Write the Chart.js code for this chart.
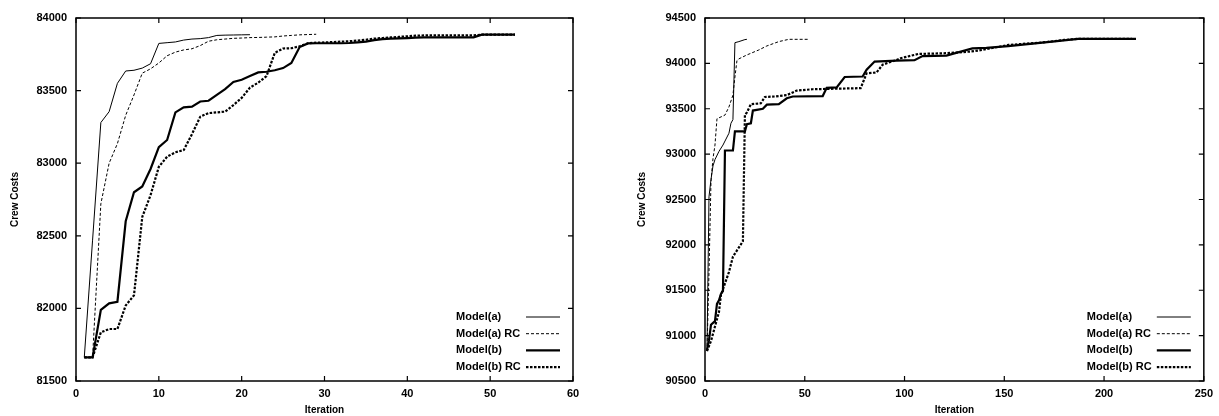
<!DOCTYPE html>
<html>
<head>
<meta charset="utf-8">
<script src="https://cdn.jsdelivr.net/npm/chart.js@4/dist/chart.umd.min.js"></script>
<style>
  body { margin: 0; background: #fff; }
  #wrap { position: relative; width: 1219px; height: 416px; }
  #left { position: absolute; left: 0; top: 0; }
  #right { position: absolute; left: 600px; top: 0; }
</style>
</head>
<body>
<div id="wrap">
  <canvas id="left" width="600" height="416"></canvas>
  <canvas id="right" width="619" height="416"></canvas>
</div>
<script>
// series labels
var seriesNames = ['Model(a)', 'Model(a) RC', 'Model(b)', 'Model(b) RC'];

// left chart, one value per iteration (starting at 1)
var leftA = [81663, 82470, 83280, 83355, 83550, 83635, 83640, 83655, 83685, 83825,
  83830, 83835, 83848, 83855, 83858, 83865, 83880, 83882, 83883, 83884, 83885];
var leftARC = [81663, 81663, 82720, 83000, 83135, 83330, 83470, 83620, 83650, 83690,
  83740, 83765, 83780, 83788, 83810, 83840, 83850, 83855, 83860, 83862,
  83865, 83866, 83868, 83870, 83876, 83880, 83884, 83886, 83888];
var leftB = [81663, 81663, 81990, 82035, 82046, 82600, 82800, 82840, 82960, 83110,
  83160, 83350, 83385, 83390, 83425, 83430, 83470, 83510, 83560, 83575,
  83600, 83625, 83630, 83640, 83655, 83690, 83800, 83825, 83826, 83826,
  83826, 83826, 83828, 83832, 83837, 83848, 83855, 83858, 83860, 83862,
  83865, 83867, 83867, 83867, 83867, 83867, 83867, 83867, 83885, 83885,
  83885, 83885, 83885];
var leftBRC = [81663, 81663, 81835, 81858, 81858, 82020, 82090, 82630, 82780, 82975,
  83045, 83075, 83090, 83200, 83320, 83345, 83350, 83355, 83400, 83450,
  83520, 83555, 83600, 83760, 83790, 83792, 83805, 83826, 83830, 83832,
  83834, 83837, 83840, 83845, 83850, 83858, 83862, 83866, 83870, 83874,
  83878, 83880, 83880, 83880, 83880, 83880, 83880, 83880, 83885, 83885,
  83885, 83885, 83885];

// right chart, iteration / cost pairs at the corners of each curve
var rightAIter = [1, 2, 3, 4, 5, 7, 9, 12, 13, 14, 15, 17, 20, 21];
var rightACost = [90830, 92530, 92720, 92870, 92940, 93030, 93100, 93230, 93340, 93380, 94228, 94240, 94262, 94265];
var rightARCIter = [1, 2, 3, 4, 5, 6, 10, 12, 14, 15, 16, 17, 21, 27, 31, 37, 42, 52];
var rightARCCost = [90830, 91700, 92700, 92950, 93100, 93390, 93430, 93520, 93650, 93850, 94030, 94050, 94093, 94148, 94192, 94240, 94265, 94265];
var rightBIter = [1, 2, 3, 5, 6, 7, 8, 9, 10, 14, 15, 20, 21, 23, 24, 29, 31, 37, 41, 44, 59, 61, 66, 70, 79, 81, 85, 96, 105, 109, 121, 134, 141, 152, 174, 187, 216];
var rightBCost = [90840, 90950, 91120, 91160, 91350, 91390, 91460, 91490, 93040, 93040, 93250, 93250, 93330, 93340, 93480, 93500, 93545, 93550, 93615, 93635, 93640, 93730, 93735, 93850, 93855, 93930, 94020, 94030, 94035, 94080, 94085, 94165, 94170, 94190, 94240, 94270, 94270];
var rightBRCIter = [1, 3, 5, 7, 8, 12, 14, 19, 20, 21, 23, 28, 30, 35, 41, 46, 54, 78, 81, 86, 89, 96, 98, 107, 121, 133, 139, 152, 169, 180, 187, 214];
var rightBRCCost = [90830, 90940, 91100, 91260, 91450, 91700, 91870, 92040, 93430, 93460, 93550, 93560, 93630, 93635, 93650, 93700, 93715, 93727, 93890, 93900, 93985, 94038, 94057, 94104, 94112, 94130, 94148, 94203, 94230, 94258, 94270, 94270];

// line looks, same order as seriesNames
var widths = [1, 1, 2.2, 2.2];
var dashes = [[], [3, 2], [], [2.5, 1.5]];

function pairs(xs, ys) {
  return xs.map(function (x, i) { return { x: x, y: ys[i] }; });
}
function byIteration(ys) {
  return ys.map(function (y, i) { return { x: i + 1, y: y }; });
}

// frame with inward ticks on all four sides + legend in the lower right
var gnuplotFrame = {
  id: 'gnuplotFrame',
  afterDraw: function (chart) {
    var ctx = chart.ctx;
    var a = chart.chartArea;
    var xs = chart.scales.x, ys = chart.scales.y;
    ctx.save();
    ctx.strokeStyle = '#000';
    ctx.lineWidth = 1.5;
    ctx.strokeRect(a.left, a.top, a.right - a.left, a.bottom - a.top);
    ctx.lineWidth = 1.2;
    ctx.beginPath();
    xs.ticks.forEach(function (t) {
      var px = xs.getPixelForValue(t.value);
      ctx.moveTo(px, a.bottom); ctx.lineTo(px, a.bottom - 5);
      ctx.moveTo(px, a.top); ctx.lineTo(px, a.top + 5);
    });
    ys.ticks.forEach(function (t) {
      var py = ys.getPixelForValue(t.value);
      ctx.moveTo(a.left, py); ctx.lineTo(a.left + 5, py);
      ctx.moveTo(a.right, py); ctx.lineTo(a.right - 5, py);
    });
    ctx.stroke();

    // legend
    ctx.font = 'bold 11px "Liberation Sans", Arial, sans-serif';
    ctx.fillStyle = '#000';
    ctx.textBaseline = 'middle';
    ctx.textAlign = 'left';
    chart.data.datasets.forEach(function (ds, i) {
      var y = a.bottom - 64 + i * 16.7;
      ctx.fillText(ds.label, a.right - 117, y);
      ctx.lineWidth = ds.borderWidth;
      ctx.setLineDash(ds.borderDash);
      ctx.beginPath();
      ctx.moveTo(a.right - 47, y);
      ctx.lineTo(a.right - 13, y);
      ctx.stroke();
    });
    ctx.restore();
  }
};

function makeChart(id, series, xMax, xStep, yMin, yMax, yWidth, titlePad, padRight) {
  var ctx = document.getElementById(id).getContext('2d');
  return new Chart(ctx, {
    type: 'line',
    data: {
      datasets: series.map(function (pts, i) {
        return {
          label: seriesNames[i],
          data: pts,
          borderColor: '#000',
          borderWidth: widths[i],
          borderDash: dashes[i],
          pointRadius: 0,
          tension: 0,
          fill: false
        };
      })
    },
    options: {
      responsive: false,
      animation: false,
      layout: { padding: { top: 18, right: padRight, left: 0, bottom: 0 } },
      plugins: { legend: { display: false }, tooltip: { enabled: false } },
      scales: {
        x: {
          type: 'linear',
          min: 0,
          max: xMax,
          grid: { display: false, drawTicks: false },
          border: { display: false },
          ticks: { stepSize: xStep, color: '#000', padding: 6, maxRotation: 0,
            font: { family: 'Liberation Sans', size: 11, weight: 'bold' } },
          title: { display: true, text: 'Iteration', color: '#000', padding: 0,
            font: { family: 'Liberation Sans', size: 10, weight: 'bold' } },
          afterFit: function (s) { s.height = 35; }
        },
        y: {
          min: yMin,
          max: yMax,
          grid: { display: false, drawTicks: false },
          border: { display: false },
          ticks: { stepSize: 500, color: '#000', padding: 9,
            font: { family: 'Liberation Sans', size: 11, weight: 'bold' },
            callback: function (v) { return String(v); } },
          title: { display: true, text: 'Crew Costs', color: '#000',
            padding: { top: titlePad, bottom: 0 },
            font: { family: 'Liberation Sans', size: 10, weight: 'bold' } },
          afterFit: function (s) { s.width = yWidth; }
        }
      }
    },
    plugins: [gnuplotFrame]
  });
}

makeChart('left', [byIteration(leftA), byIteration(leftARC), byIteration(leftB), byIteration(leftBRC)],
  60, 10, 81500, 84000, 76, 9, 27);
makeChart('right', [pairs(rightAIter, rightACost), pairs(rightARCIter, rightARCCost),
  pairs(rightBIter, rightBCost), pairs(rightBRCIter, rightBRCCost)],
  250, 50, 90500, 94500, 105, 36, 13);
</script>
</body>
</html>
